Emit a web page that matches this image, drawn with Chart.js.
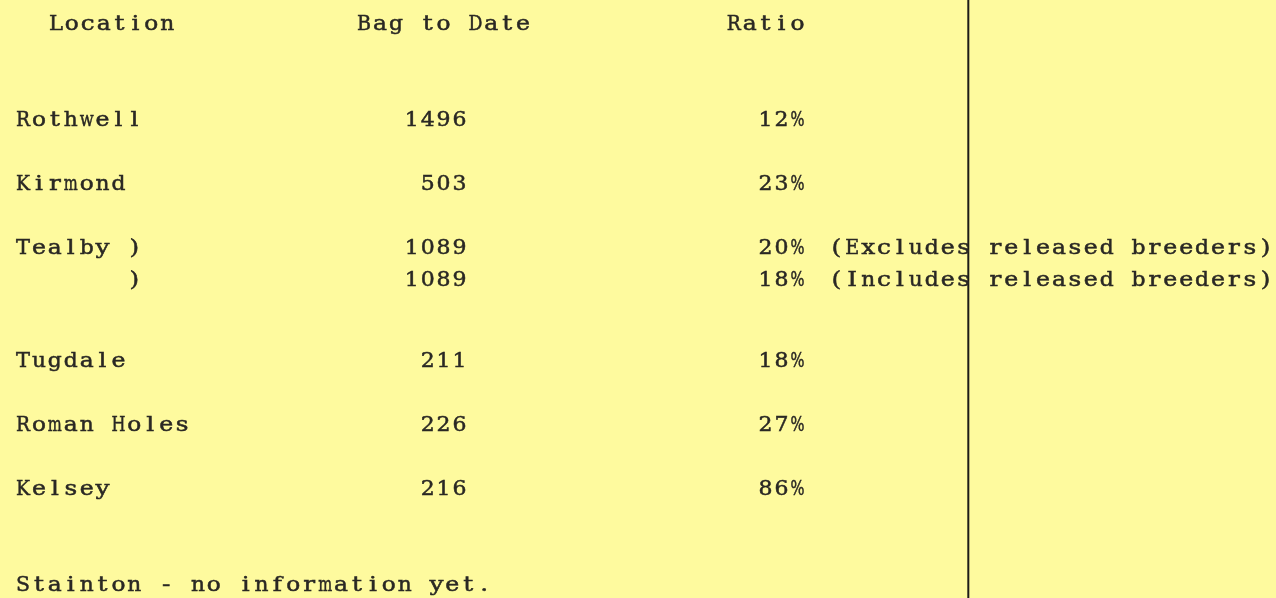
<!DOCTYPE html>
<html>
<head>
<meta charset="utf-8">
<title>Bag to Date</title>
<script src="https://cdn.jsdelivr.net/npm/chart.js@4.4.1/dist/chart.umd.min.js"></script>
<style>
    html, body { margin: 0; padding: 0; background: #fefa9e; }
    #wrap { width: 1276px; height: 598px; position: relative; }
</style>
</head>
<body>
<div id="wrap"><canvas id="bagChart"></canvas></div>
<script>
const headers = ["Location", "Bag to Date", "Ratio"];
const locations = ["Rothwell", "Kirmond", "Tealby )", "       )", "Tugdale", "Roman Holes", "Kelsey"];
const bagToDate = [1496, 503, 1089, 1089, 211, 226, 216];
const ratios = [12, 23, 20, 18, 18, 27, 86];
const notes = ["", "", "(Excludes released breeders)", "(Includes released breeders)", "", "", ""];
const footnote = "Stainton - no information yet.";

// typewriter layout: rows in line units, columns in character units
const rowLine = [3, 5, 7, 8, 10.5, 12.5, 14.5];
const headerLine = 0;
const footLine = 17.5;
const col = {
    name: 0.95,
    locHead: 3.02,
    bagHead: 22.4,
    bagRight: 29.4,
    ratioRight: 50.65,
    note: 52.1,
    rule: 60.9
};

const charWidth = 15.9;
const linePitch = 32.1;
const fontSize = 21;
const capHeight = 15;
const stretch = 1.18;
const ink = "#2a2824";
const paper = "#fefa9e";

const yMin = -22 / linePitch;
const yMax = (598 - 22) / linePitch;

function cells(xs, ys, texts) {
    return texts.map((t, i) => ({ x: xs[i], y: ys[i], text: t }));
}

// typewriter look: every character sits in its own fixed-width cell
function typeText(c, text, x, y, align) {
    const start = align === "right" ? x - text.length * charWidth : x;
    const base = y + capHeight / 2;
    const maxW = charWidth * 0.88;
    for (let k = 0; k < text.length; k++) {
        const ch = text[k];
        if (ch === " ") continue;
        const cx = start + (k + 0.5) * charWidth;
        const w = c.measureText(ch).width * stretch;
        const sx = w > maxW ? stretch * maxW / w : stretch;
        c.save();
        c.translate(cx, base);
        c.scale(sx, 1);
        c.fillText(ch, 0, 0);
        c.strokeText(ch, 0, 0);
        c.restore();
    }
}

const textCells = {
    id: "textCells",
    beforeDraw(chart) {
        const c = chart.ctx;
        c.save();
        c.fillStyle = paper;
        c.fillRect(0, 0, chart.width, chart.height);
        c.restore();
    },
    afterDatasetsDraw(chart) {
        const c = chart.ctx;
        c.save();
        c.font = `${fontSize}px 'DejaVu Serif', 'Liberation Serif', serif`;
        c.fillStyle = ink;
        c.strokeStyle = ink;
        c.lineWidth = 0.5;
        c.textAlign = "center";
        c.textBaseline = "alphabetic";
        chart.data.datasets.forEach((ds, i) => {
            if (!ds.align) return;
            const meta = chart.getDatasetMeta(i);
            meta.data.forEach((pt, j) => {
                const t = ds.data[j].text;
                if (t) typeText(c, t, pt.x, pt.y, ds.align);
            });
        });
        c.restore();
    }
};

const rows = locations.map((_, i) => rowLine[i]);

const ctx = document.getElementById("bagChart").getContext("2d");

const bagChart = new Chart(ctx, {
    type: "scatter",
    data: {
        datasets: [
            {
                label: "headers",
                align: "left",
                data: cells([col.locHead, col.bagHead], [headerLine, headerLine], headers.slice(0, 2)),
                pointRadius: 0
            },
            {
                label: "ratioHeader",
                align: "right",
                data: cells([col.ratioRight], [headerLine], headers.slice(2)),
                pointRadius: 0
            },
            {
                label: "Location",
                align: "left",
                data: cells(rows.map(() => col.name), rows, locations),
                pointRadius: 0
            },
            {
                label: "Bag to Date",
                align: "right",
                data: cells(rows.map(() => col.bagRight), rows, bagToDate.map(String)),
                pointRadius: 0
            },
            {
                label: "Ratio",
                align: "right",
                data: cells(rows.map(() => col.ratioRight), rows, ratios.map(r => `${r}%`)),
                pointRadius: 0
            },
            {
                label: "Notes",
                align: "left",
                data: cells(rows.map(() => col.note), rows, notes),
                pointRadius: 0
            },
            {
                label: "Footnote",
                align: "left",
                data: cells([col.name], [footLine], [footnote]),
                pointRadius: 0
            },
            {
                label: "rule",
                data: [{ x: col.rule, y: yMin }, { x: col.rule, y: yMax }],
                showLine: true,
                borderColor: "#1c1b18",
                borderWidth: 2,
                pointRadius: 0
            }
        ]
    },
    options: {
        responsive: true,
        maintainAspectRatio: false,
        animation: false,
        layout: {
            padding: 0,
            autoPadding: false
        },
        plugins: {
            legend: { display: false },
            tooltip: { enabled: false }
        },
        scales: {
            x: {
                type: "linear",
                min: 0,
                max: 1276 / charWidth,
                display: false
            },
            y: {
                type: "linear",
                min: yMin,
                max: yMax,
                reverse: true,
                display: false
            }
        }
    },
    plugins: [textCells]
});
</script>
</body>
</html>
